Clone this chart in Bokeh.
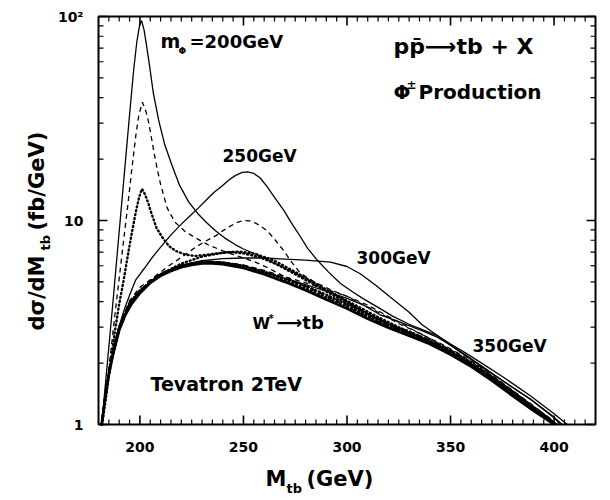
import math
from bokeh.plotting import figure
from bokeh.models import Label, Range1d
from bokeh.core.properties import value
from bokeh.embed import file_html
from bokeh.resources import INLINE

# ---------------- data ----------------
x_ticks = [200, 250, 300, 350, 400]
x_tick_labels = ["200", "250", "300", "350", "400"]
y_ticks = [1, 10, 100]
y_tick_labels = ["1", "10", "10\u00b2"]

# W* -> tb background (thick bundle)
bg_x = [181.5, 183, 185, 187, 190, 193, 196, 200, 205, 210, 215, 220, 225, 230, 235, 240, 250, 260, 270, 280,
        290, 300, 310, 320, 330, 340, 350, 360, 370, 380, 390, 400]
bg_y = [1.0, 1.3, 1.75, 2.2, 2.9, 3.45, 3.9, 4.4, 4.95, 5.35, 5.65, 5.9, 6.05, 6.15, 6.15, 6.1, 5.85, 5.45, 5.0, 4.55,
        4.1, 3.7, 3.3, 2.98, 2.72, 2.48, 2.2, 1.92, 1.64, 1.38, 1.17, 1.0]
d350_y = [1.0, 1.32, 1.78, 2.25, 2.95, 3.5, 3.97, 4.48, 5.03, 5.45, 5.75, 6.0, 6.15, 6.25, 6.25, 6.2, 5.95, 5.55, 5.1,
          4.65, 4.2, 3.78, 3.38, 3.05, 2.78, 2.54, 2.26, 1.97, 1.68, 1.42, 1.2, 1.02]
ds350_y = [1.0, 1.33, 1.8, 2.28, 3.0, 3.55, 4.02, 4.52, 5.08, 5.5, 5.8, 6.05, 6.2, 6.3, 6.3, 6.25, 6.02, 5.62, 5.18,
           4.74, 4.3, 3.88, 3.48, 3.14, 2.86, 2.6, 2.32, 2.02, 1.72, 1.46, 1.23, 1.04]
d300_y = [1.0, 1.31, 1.77, 2.23, 2.93, 3.5, 3.95, 4.45, 5.0, 5.42, 5.73, 5.98, 6.14, 6.24, 6.26, 6.22, 6.0, 5.62, 5.2,
          4.78, 4.33, 3.88, 3.43, 3.07, 2.78, 2.52, 2.24, 1.95, 1.66, 1.4, 1.19, 1.01]

# m_phi = 200 GeV
s200_x = [181.6, 183, 185, 187, 189, 191, 193, 195, 197, 198.5, 199.8, 200.8, 202, 203.2, 204.3, 206.5, 209.1, 212,
          215.6, 219, 223.6, 228, 232, 236.5, 241, 246.2, 250, 255.8, 262, 270, 280, 290, 300, 310, 320, 330, 340,
          350, 360, 370, 380, 390, 400]
s200_y = [1.0, 1.45, 2.4, 4.0, 6.8, 11.5, 19.5, 33, 55, 75, 90, 95.5, 86, 72, 60.8, 42, 30.9, 23.5, 18.5, 15.0, 12.3,
          10.8, 9.8, 8.9, 8.2, 7.6, 7.25, 6.85, 6.4, 5.85, 5.2, 4.55, 4.0, 3.5, 3.12, 2.82, 2.56, 2.28, 1.98, 1.7,
          1.44, 1.2, 1.0]
da200_x = [181.8, 184, 186, 188, 190, 192, 194, 196, 198, 199.5, 201.2, 203, 204.3, 206, 207.5, 210, 213.2, 217, 222,
           227, 233, 240, 247, 255, 262, 270, 280, 290, 300, 310, 320, 330, 340, 350, 360, 370, 380, 390, 400]
da200_y = [1.0, 1.55, 2.3, 3.5, 5.2, 7.8, 11.5, 17.5, 26, 33, 38, 34, 30, 24, 19.7, 15, 11.5, 9.8, 8.8, 8.2, 7.6, 7.1,
           6.7, 6.3, 5.85, 5.3, 4.75, 4.25, 3.8, 3.38, 3.04, 2.76, 2.5, 2.22, 1.94, 1.66, 1.4, 1.19, 1.0]
do200_x = [181.8, 184, 186, 188, 190, 192, 194, 196, 198, 199.6, 201, 202.5, 204, 205.1, 208, 210.7, 214, 217.2, 222,
           227, 235, 243, 250, 258, 266, 275, 285, 295, 305, 315, 325, 335, 345, 355, 365, 375, 385, 395, 400]
do200_y = [1.0, 1.45, 2.1, 2.9, 3.9, 5.0, 6.6, 8.6, 11.0, 13.0, 14.3, 13.4, 12.2, 11.2, 9.2, 8.3, 7.5, 7.1, 6.8, 6.7,
           6.85, 7.0, 6.9, 6.6, 6.1, 5.45, 4.8, 4.2, 3.72, 3.3, 2.95, 2.68, 2.42, 2.13, 1.84, 1.56, 1.31, 1.11, 1.02]

# m_phi = 250 GeV
s250_x = [181.6, 183, 185, 188, 190, 193, 195, 197.9, 202, 206, 210, 215, 220, 224, 228.5, 233, 236, 239.8, 243, 246,
          249.4, 252, 255, 258, 261.5, 265, 269.5, 273, 277.6, 281, 285.6, 291, 297, 303, 308, 315, 322, 330, 337,
          343.6, 350, 357, 365, 375, 389, 400, 403]
s250_y = [1.0, 1.33, 1.8, 2.6, 3.05, 3.8, 4.3, 5.1, 5.8, 6.6, 7.4, 8.5, 9.6, 10.5, 11.6, 12.9, 13.8, 14.8, 15.8, 16.6,
          17.2, 17.3, 17.0, 16.2, 14.6, 13.0, 11.2, 9.8, 8.3, 7.3, 6.4, 5.6, 4.9, 4.45, 4.13, 3.75, 3.4, 3.1, 2.9,
          2.73, 2.45, 2.18, 1.92, 1.64, 1.32, 1.08, 1.0]
da250_x = [181.6, 185, 190, 195, 200, 207.5, 215, 220, 226.9, 231, 236.5, 240, 243, 247, 250.2, 253, 256, 258.5,
           261.5, 265, 269.5, 273, 277.6, 285, 293.7, 300, 305, 315, 325, 335, 345, 355, 365, 375, 385, 395, 401]
da250_y = [1.0, 1.8, 3.0, 4.05, 4.7, 5.35, 6.1, 6.6, 7.4, 7.85, 8.4, 8.9, 9.3, 9.8, 10.0, 9.95, 9.7, 9.35, 8.9, 8.1,
           7.1, 6.3, 5.5, 4.95, 4.5, 4.25, 4.0, 3.55, 3.12, 2.8, 2.5, 2.2, 1.9, 1.6, 1.35, 1.13, 1.0]
do250_x = [181.6, 185, 190, 195, 200, 210, 220, 230, 240, 248, 256, 265, 275, 285, 295, 305, 315, 325, 335, 345, 355,
           365, 375, 385, 395, 401]
do250_y = [1.0, 1.78, 3.0, 3.95, 4.55, 5.45, 6.15, 6.65, 6.95, 7.05, 6.85, 6.35, 5.6, 4.9, 4.3, 3.8, 3.36, 3.0, 2.72,
           2.45, 2.16, 1.87, 1.58, 1.32, 1.11, 1.0]

# m_phi = 300 GeV
s300_x = [181.6, 185, 190, 195, 200, 210, 220, 230, 240, 250, 260, 268, 280, 292, 300, 306.6, 314, 321, 330, 336,
          343.6, 350, 357, 365, 375, 388.7, 400, 406.4]
s300_y = [1.0, 1.8, 3.0, 3.95, 4.55, 5.45, 6.05, 6.35, 6.5, 6.55, 6.55, 6.49, 6.4, 6.25, 5.95, 5.47, 4.8, 4.2, 3.55,
          3.1, 2.73, 2.48, 2.25, 2.0, 1.72, 1.38, 1.13, 1.0]
da300_x = [181.6, 185, 190, 195, 200, 210, 220, 230, 240, 250, 260, 270, 280, 290, 300, 310, 320, 330, 340, 350, 360,
           370, 380, 390, 400, 402]
da300_y = [1.0, 1.78, 2.98, 3.92, 4.5, 5.42, 6.0, 6.25, 6.25, 6.05, 5.7, 5.3, 4.95, 4.6, 4.25, 3.85, 3.38, 2.98, 2.64,
           2.32, 2.02, 1.72, 1.46, 1.22, 1.02, 1.0]

# m_phi = 350 GeV
s350_x = [181.6, 185, 190, 195, 200, 210, 220, 230, 240, 250, 260, 270, 280, 290, 300, 308, 316, 323, 330, 337, 343.6,
          350, 357, 364.5, 376, 388.7, 399.8, 404]
s350_y = [1.0, 1.78, 2.98, 3.92, 4.5, 5.4, 5.98, 6.25, 6.25, 6.0, 5.6, 5.2, 4.85, 4.5, 4.15, 3.85, 3.45, 3.25, 3.05,
          2.86, 2.68, 2.45, 2.2, 1.95, 1.62, 1.33, 1.09, 1.0]

# ---------------- geometry of the page ----------------
FONT = "DejaVu Sans"
X0, X1, Y0, Y1 = 180, 420, 1, 100          # plotted data window
FL, FR, FT, FB = 98, 595, 16, 424          # its frame on the 610x500 page
SX = (FR - FL) / (X1 - X0)
SY = (FB - FT) / math.log10(Y1 / Y0)


def px2x(px):
    return X0 + (px - FL) / SX


def py2y(py):
    return Y0 * 10 ** ((FB - py) / SY)


p = figure(width=610, height=500, y_axis_type="log",
           x_range=Range1d(px2x(0), px2x(610)), y_range=Range1d(py2y(500), py2y(0)),
           output_backend="svg", toolbar_location=None, min_border=0)
p.axis.visible = False
p.grid.visible = False
p.outline_line_color = None
p.background_fill_color = "white"
p.border_fill_color = "white"

# frame
p.quad(left=[X0], right=[X1], bottom=[Y0], top=[Y1], fill_color=None, line_color="black", line_width=2)

x_minor = [v for v in range(185, 420, 5) if v % 50 != 0]
y_minor = [m * d for d in (1, 10) for m in range(2, 10)]

# inward ticks on all four edges
for xs, ln, lw in ((x_ticks, 9, 1.6), (x_minor, 5, 1.2)):
    n = len(xs)
    p.segment(x0=xs, y0=[Y0] * n, x1=xs, y1=[py2y(FB - ln)] * n, line_color="black", line_width=lw)
    p.segment(x0=xs, y0=[Y1] * n, x1=xs, y1=[py2y(FT + ln)] * n, line_color="black", line_width=lw)
for ys, ln, lw in ((y_ticks, 9, 1.6), (y_minor, 5, 1.2)):
    n = len(ys)
    p.segment(x0=[X0] * n, y0=ys, x1=[px2x(FL + ln)] * n, y1=ys, line_color="black", line_width=lw)
    p.segment(x0=[X1] * n, y0=ys, x1=[px2x(FR - ln)] * n, y1=ys, line_color="black", line_width=lw)

# tick labels
p.text(x=x_ticks, y=[py2y(441)] * len(x_ticks), text=x_tick_labels, text_font=value(FONT),
       text_font_style="bold", text_font_size="14px", text_align="center", text_baseline="top",
       text_color="black")
p.text(x=[px2x(83)] * len(y_ticks), y=y_ticks, text=y_tick_labels, text_font=value(FONT),
       text_font_style="bold", text_font_size="14px", text_align="right", text_baseline="middle",
       text_color="black")

SOLID = dict(line_color="black", line_width=1.3)
DASH = dict(line_color="black", line_width=1.3, line_dash="5 4")
DOT = dict(line_color="black", line_width=2.4, line_dash="1 3", line_cap="round")

# bundle
p.line(bg_x, bg_y, line_color="black", line_width=2.6)
p.line(bg_x, d350_y, **DOT)
p.line(bg_x, ds350_y, **DASH)
p.line(bg_x, d300_y, **DOT)
# signal curves
p.line(s200_x, s200_y, **SOLID)
p.line(da200_x, da200_y, **DASH)
p.line(do200_x, do200_y, **DOT)
p.line(s250_x, s250_y, **SOLID)
p.line(da250_x, da250_y, **DASH)
p.line(do250_x, do250_y, **DOT)
p.line(s300_x, s300_y, **SOLID)
p.line(da300_x, da300_y, **DASH)
p.line(s350_x, s350_y, **SOLID)


# ---------------- texts ----------------
def lab(px, py, text, size, angle=0.0, align="left", baseline="bottom"):
    p.add_layout(Label(x=px2x(px), y=py2y(py), text=text, text_font=FONT, text_font_style="bold",
                       text_font_size=f"{size}px", text_align=align, text_baseline=baseline,
                       text_color="black", angle=angle))


lab(160, 51, "m", 19)
lab(178, 55, "\u03a6", 9)
lab(189, 51, "=200GeV", 18)
lab(393, 58, "pp\u0304\u27f6tb + X", 22)
lab(393, 103, "\u03a6", 20)
lab(406, 91, "\u00b1", 12)
lab(418, 103, "Production", 20)
lab(222, 165, "250GeV", 17)
lab(356, 267, "300GeV", 17)
lab(472, 355, "350GeV", 17)
lab(252, 332, "W", 16)
lab(268, 323, "*", 10)
lab(276, 332, "\u27f6tb", 18)
lab(150, 394, "Tevatron 2TeV", 19)

# axis titles
lab(265, 490, "M", 21)
lab(286, 495, "tb", 13)
lab(306, 490, "(GeV)", 21)
lab(48, 330, "d\u03c3/dM", 21, angle=math.pi / 2)
lab(52, 250, "tb", 13, angle=math.pi / 2)
lab(48, 230, "(fb/GeV)", 21, angle=math.pi / 2)

open("out.html", "w").write(file_html(p, INLINE))
